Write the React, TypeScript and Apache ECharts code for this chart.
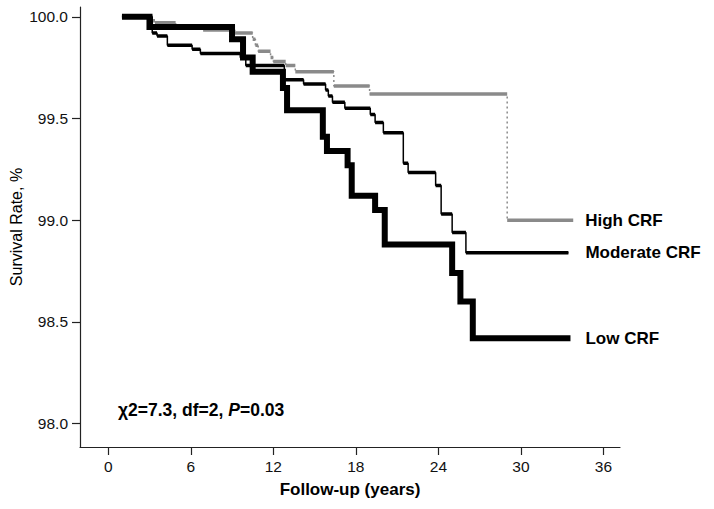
import React, { useEffect, useRef } from "react";
import * as echarts from "echarts";

const xTicks = [0, 6, 12, 18, 24, 30, 36];
const yTicks = [98.0, 98.5, 99.0, 99.5, 100.0];

const highTimes = [1.0, 2.9, 3.4, 4.9, 6.9, 9.2, 10.5, 10.7, 10.9, 11.8, 12.0, 12.9, 13.6, 16.4, 19.0, 29.0, 33.8];
const highSurv = [100.0, 99.98, 99.97, 99.95, 99.935, 99.92, 99.89, 99.86, 99.83, 99.8, 99.78, 99.76, 99.73, 99.66, 99.62, 99.0, 99.0];

const modTimes = [1.0, 3.2, 3.55, 4.3, 6.1, 6.7, 9.6, 10.0, 12.8, 14.2, 15.8, 16.0, 16.3, 17.2, 19.05, 19.4, 20.0, 21.45, 21.8, 23.8, 24.2, 25.0, 26.0, 33.45];
const modSurv = [100.0, 99.92, 99.905, 99.86, 99.84, 99.82, 99.8, 99.76, 99.69, 99.67, 99.64, 99.61, 99.58, 99.55, 99.52, 99.48, 99.43, 99.28, 99.235, 99.17, 99.03, 98.94, 98.84, 98.84];

const lowTimes = [1.0, 3.0, 9.0, 9.8, 10.5, 12.7, 13.0, 15.6, 15.9, 17.4, 17.7, 19.4, 20.1, 25.0, 25.6, 26.5, 33.6];
const lowSurv = [100.0, 99.95, 99.89, 99.8, 99.73, 99.65, 99.54, 99.41, 99.34, 99.27, 99.12, 99.05, 98.88, 98.74, 98.6, 98.42, 98.42];

const names = ["High CRF", "Moderate CRF", "Low CRF"];

const FONT = "'Liberation Sans', Arial, sans-serif";
const GRAY = "#8a8a8a";

function stepPoints(t: number[], s: number[]) {
  return t.map((x, i) => [x, s[i]]);
}
function flatSegments(t: number[], s: number[]) {
  const out: any[] = [];
  for (let i = 0; i < t.length - 1; i++) {
    out.push([t[i], s[i]], [t[i + 1], s[i]], [t[i + 1], "-"]);
  }
  return out;
}

export default function App() {
  const ref = useRef<HTMLDivElement>(null);
  useEffect(() => {
    const chart = echarts.init(ref.current!, undefined, { renderer: "svg" });
    const endLabel = (name: string, distance: number) => ({
      show: true,
      formatter: () => name,
      color: "#000",
      fontSize: 17,
      fontWeight: "bold",
      fontFamily: FONT,
      distance,
    });
    chart.setOption({
      animation: false,
      grid: { left: 80, right: 94, top: 7, bottom: 62, outerBoundsMode: "none", containLabel: false },
      xAxis: {
        type: "value",
        min: -2.05,
        max: 37.2,
        name: "Follow-up (years)",
        nameLocation: "middle",
        nameGap: 34,
        nameMoveOverlap: false,
        nameTextStyle: { fontSize: 17, fontWeight: "bold", color: "#000", fontFamily: FONT },
        axisLine: { show: true, onZero: false, lineStyle: { color: "#222", width: 1.2 } },
        axisTick: { show: true, customValues: xTicks, length: 8, lineStyle: { color: "#222", width: 1.2 } },
        axisLabel: { customValues: xTicks, fontSize: 15.5, color: "#111", margin: 11, fontFamily: FONT },
        splitLine: { show: false },
      },
      yAxis: {
        type: "value",
        min: 97.885,
        max: 100.048,
        name: "Survival Rate, %",
        nameLocation: "middle",
        nameGap: 56,
        nameMoveOverlap: false,
        nameTextStyle: { fontSize: 16, color: "#000", fontFamily: FONT },
        axisLine: { show: true, onZero: false, lineStyle: { color: "#222", width: 1.2 } },
        axisTick: { show: true, customValues: yTicks, length: 8, lineStyle: { color: "#222", width: 1.2 } },
        axisLabel: {
          customValues: yTicks,
          formatter: (v: number) => v.toFixed(1),
          fontSize: 15.5,
          color: "#111",
          margin: 12,
          fontFamily: FONT,
        },
        splitLine: { show: false },
      },
      graphic: [
        {
          type: "text",
          left: 118,
          top: 401,
          style: {
            text: "{a|χ2=7.3, df=2, }{b|P}{a|=0.03}",
            rich: {
              a: { fontSize: 17.5, fontWeight: "bold", fill: "#000", fontFamily: FONT },
              b: { fontSize: 17.5, fontWeight: "bold", fontStyle: "italic", fill: "#000", fontFamily: FONT },
            },
          },
        },
      ],
      series: [
        {
          name: names[0],
          type: "line",
          step: "end",
          symbol: "none",
          silent: true,
          data: stepPoints(highTimes, highSurv),
          lineStyle: { color: GRAY, width: 1.5, type: [2, 3] },
          endLabel: endLabel(names[0], 12),
        },
        {
          name: names[0] + " h",
          type: "line",
          symbol: "none",
          silent: true,
          connectNulls: false,
          data: flatSegments(highTimes, highSurv),
          lineStyle: { color: GRAY, width: 3.5, cap: "butt" },
        },
        {
          name: names[1],
          type: "line",
          step: "end",
          symbol: "none",
          silent: true,
          data: stepPoints(modTimes, modSurv),
          lineStyle: { color: "#000", width: 1.5 },
          endLabel: endLabel(names[1], 17),
        },
        {
          name: names[1] + " h",
          type: "line",
          symbol: "none",
          silent: true,
          connectNulls: false,
          data: flatSegments(modTimes, modSurv),
          lineStyle: { color: "#000", width: 3.5, cap: "butt" },
        },
        {
          name: names[2],
          type: "line",
          step: "end",
          symbol: "none",
          silent: true,
          data: stepPoints(lowTimes, lowSurv),
          lineStyle: { color: "#000", width: 6, join: "miter", cap: "butt" },
          endLabel: endLabel(names[2], 15),
        },
      ],
    });
    return () => chart.dispose();
  }, []);
  return <div ref={ref} style={{ width: 714, height: 509, position: "absolute", left: 0, top: 0 }} />;
}
